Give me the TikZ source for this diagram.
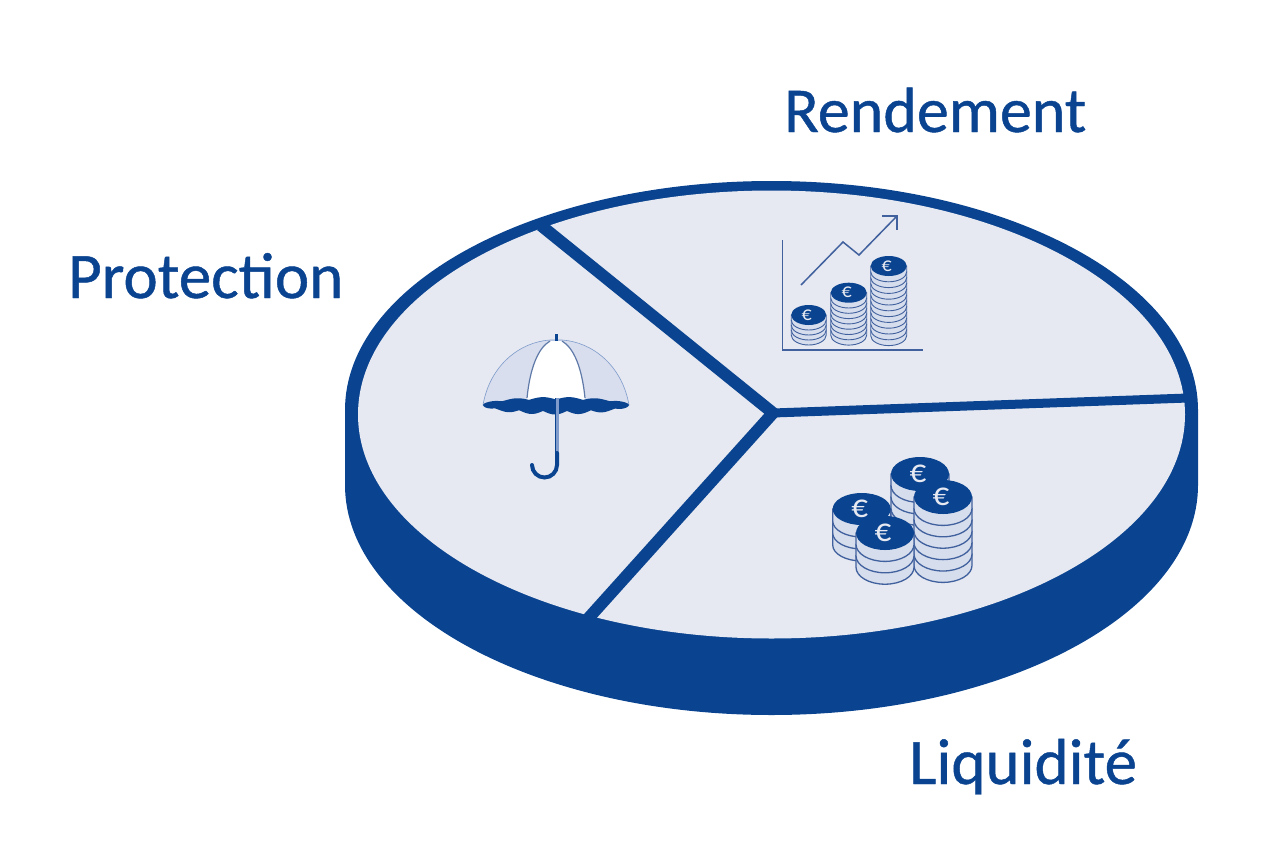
\documentclass[tikz,border=0pt]{standalone}
\usepackage{fontspec}
\setmainfont{Carlito}
\newfontfamily\labelfont[FakeBold=0.7]{Carlito}
\definecolor{pieblue}{HTML}{0A4390}
\definecolor{pieface}{HTML}{E6E9F1}
\definecolor{coinside}{HTML}{D6DDED}
\definecolor{coinline}{HTML}{41619E}
\definecolor{canopy}{HTML}{D9DEEE}
\definecolor{canopyline}{HTML}{5F7AA8}
\definecolor{shaftblue}{HTML}{7E9BCB}
\tikzset{
  title/.style={anchor=base west,inner sep=0pt,text=pieblue,font=\labelfont\fontsize{65}{70}\selectfont},
  divider/.style={draw=pieblue,line width=12pt},
  chartline/.style={draw=coinline,line width=1.5pt},
}
% A stack of coins: centre x, top y, radii, number of coins, coin height, size of the euro sign
\newcommand{\coinstack}[8]{%
  \foreach \lev in {#5,...,1}{%
    \pgfmathsetmacro{\yb}{#2+\lev*#6}%
    \pgfmathsetmacro{\yt}{#2+(\lev-1)*#6}%
    \path[fill=coinside,draw=coinline,line width=#8pt]
      (#1-#3,\yt) -- (#1-#3,\yb) arc[start angle=180,end angle=0,x radius=#3,y radius=#4]
      -- (#1+#3,\yt) -- cycle;
  }%
  \fill[pieblue] (#1,#2) ellipse[x radius=#3,y radius=#4];
  \node[inner sep=0pt,text=pieface,font=\fontsize{#7}{#7}\selectfont] at (#1-2,#2) {€};
}
\begin{document}
\begin{tikzpicture}[x=1pt,y=1pt,yscale=-1]
\useasboundingbox (0,0) rectangle (1265,859);

% Disc body and top face
\fill[pieblue] (345,410) -- (345,485) arc[start angle=180,end angle=0,x radius=426.5,y radius=230]
  -- (1198,410) arc[start angle=0,end angle=-180,x radius=426.5,y radius=229] -- cycle;
\fill[pieface] (771.5,414.5) ellipse[x radius=413.5,y radius=224];

% Sector dividers
\coordinate (hub) at (773,413);
\coordinate (rimright) at (1188,398);
\coordinate (rimtop) at (541,225.5);
\coordinate (rimbottom) at (586.8,620);
\draw[divider,line join=miter] (rimtop) -- (hub) -- (rimbottom);
\draw[divider,line width=9pt] (hub) -- (rimright);

% Labels
\node[title,font=\labelfont\fontsize{64}{70}\selectfont] (rendement) at (784,132) {Rendement};
\node[title] (protection) at (68,298) {Protection};
\node[title] (liquidite) at (909,784) {Liquidité};

% Growth chart
\draw[chartline] (782.5,240) -- (782.5,350) -- (923,350);
\draw[chartline] (801,285) -- (843,242) -- (859,255) -- (896,217);
\draw[chartline] (882,216) -- (897,216) -- (897,230);
\coinstack{808.7}{315}{17.5}{10}{4}{5}{20}{0.9}
\coinstack{848.7}{292.7}{18}{10}{8}{5.3}{20}{0.9}
\coinstack{888.7}{266}{18}{10}{12}{5.8}{20}{0.9}

% Umbrella
\fill[canopy,draw=shaftblue,line width=0.6pt] (483,405) .. controls (490,365) and (520,342) .. (550,340)
  -- (562,340) .. controls (592,342) and (622,365) .. (629,405) -- cycle;
\fill[white] (527,400) .. controls (530,368) and (538,348) .. (550,341) -- (562,341)
  .. controls (574,348) and (582,368) .. (585,400) -- cycle;
\draw[canopyline,line width=1.2pt] (527,398) .. controls (530,368) and (538,348) .. (550,341);
\draw[canopyline,line width=1.2pt] (585,398) .. controls (582,368) and (574,348) .. (562,341);
\fill[pieblue] plot[domain=483:629,samples=150,smooth]
    (\x,{405-(5.5+2.5*abs(sin((\x-556)/27*180)))*sqrt(abs(1-((\x-556)/73)*((\x-556)/73)))})
  -- plot[domain=629:483,samples=150,smooth]
    (\x,{405+(6+3.5*abs(sin((\x-543)/24*180)))*sqrt(abs(1-((\x-556)/73)*((\x-556)/73)))})
  -- cycle;
\draw[pieblue,line width=2.5pt] (556.5,334) -- (556.5,341);
\draw[shaftblue,line width=3.5pt] (557,398) -- (557,453);
\draw[pieblue,line width=1pt] (555.2,398) -- (555.2,453);
\draw[pieblue,line width=4pt,line cap=round] (557,453) -- (557,465)
  arc[start angle=0,end angle=180,radius=12.5];

% Stacks of euro coins
\coinstack{920}{474}{29}{17}{5}{11.5}{33}{1.3}
\coinstack{943}{497}{29}{17}{6}{11.4}{33}{1.3}
\coinstack{861.7}{509}{29}{16}{3}{12}{33}{1.3}
\coinstack{885}{533}{29}{17}{3}{11.4}{33}{1.3}
\end{tikzpicture}
\end{document}
